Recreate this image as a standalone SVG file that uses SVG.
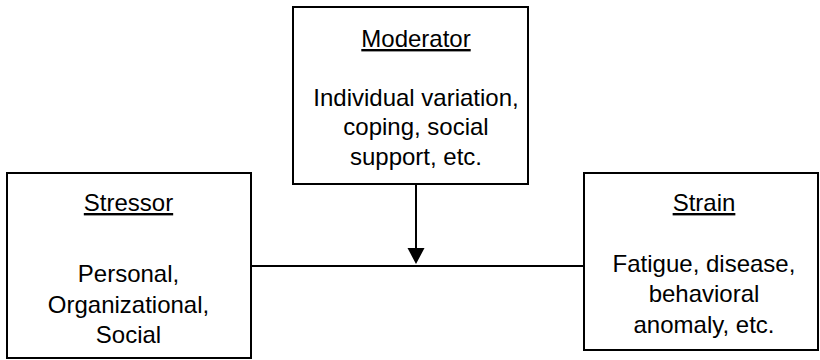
<svg xmlns="http://www.w3.org/2000/svg" width="820" height="360" viewBox="0 0 820 360">
<defs>
<style>
.box{fill:#fff;stroke:#000;stroke-width:2}
.t{font-family:"Liberation Sans",Arial,sans-serif;font-size:24px;fill:#000;text-anchor:middle}
.h{text-decoration:underline}
.c{stroke:#000;stroke-width:2;fill:none}
</style>
</defs>
<g id="connectors">
<line class="c" x1="251" y1="266" x2="584" y2="266"/>
<line class="c" x1="416" y1="184" x2="416" y2="248"/>
<path d="M407.5,248 L424.5,248 L416,264 Z" fill="#000"/>
</g>
<g id="moderator">
<rect class="box" x="293" y="7" width="235" height="177"/>
<text class="t h" x="416" y="47">Moderator</text>
<text class="t" x="416" y="106">Individual variation,</text>
<text class="t" x="416" y="135">coping, social</text>
<text class="t" x="416" y="165">support, etc.</text>
</g>
<g id="stressor">
<rect class="box" x="7" y="173" width="244" height="185"/>
<text class="t h" x="128.5" y="211">Stressor</text>
<text class="t" x="128.5" y="282">Personal,</text>
<text class="t" x="128.5" y="313">Organizational,</text>
<text class="t" x="128.5" y="343">Social</text>
</g>
<g id="strain">
<rect class="box" x="584" y="173" width="234" height="177"/>
<text class="t h" x="704" y="211">Strain</text>
<text class="t" x="704" y="272">Fatigue, disease,</text>
<text class="t" x="704" y="302">behavioral</text>
<text class="t" x="704" y="333">anomaly, etc.</text>
</g>
</svg>
